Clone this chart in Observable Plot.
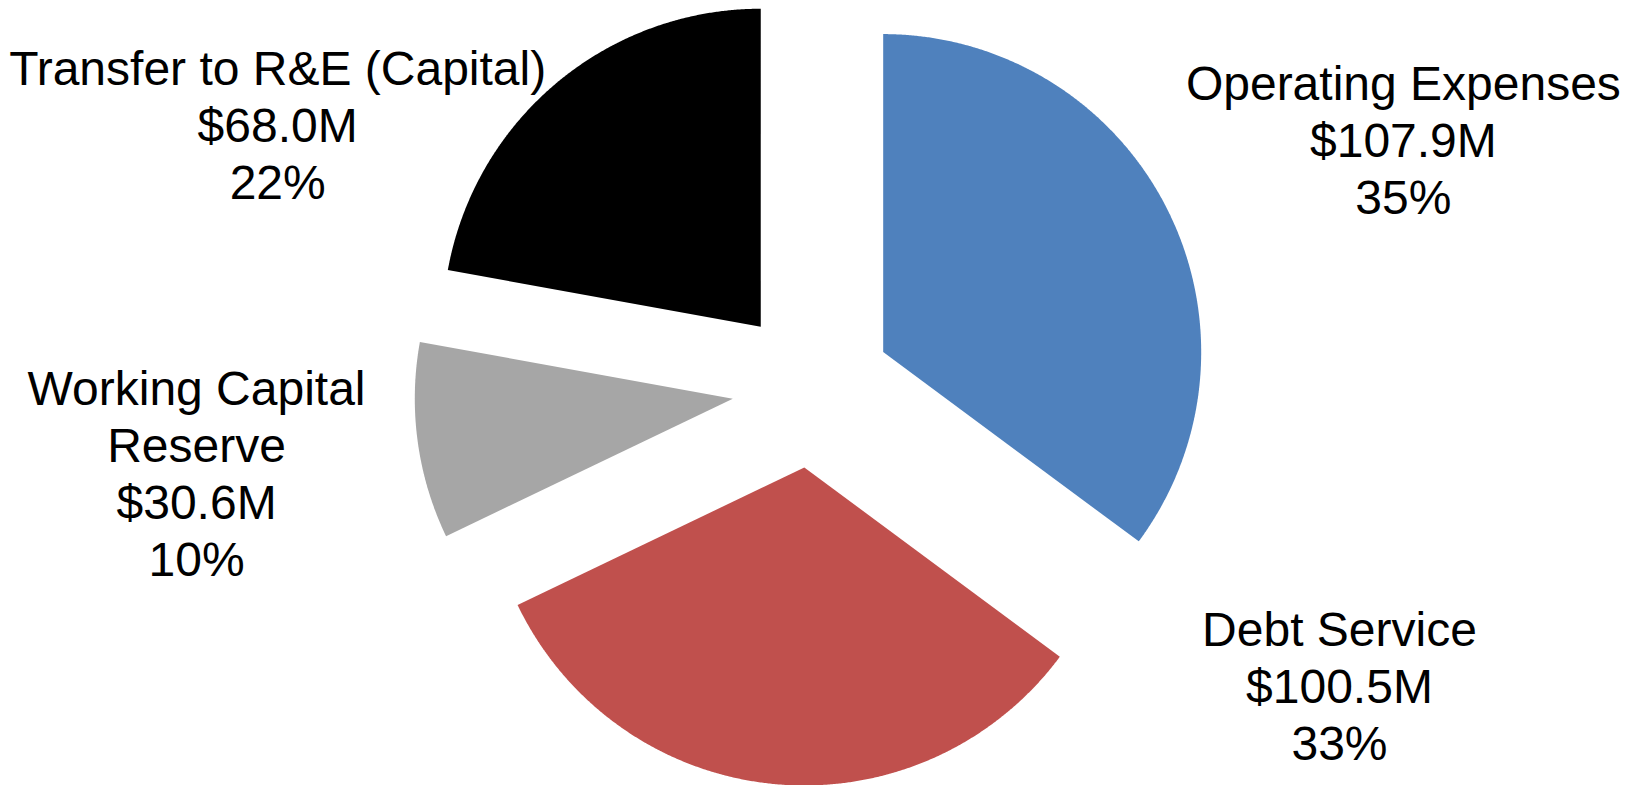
<!DOCTYPE html>
<html>
<head>
<meta charset="utf-8">
<script src="https://cdn.jsdelivr.net/npm/d3@7"></script>
<script src="https://cdn.jsdelivr.net/npm/@observablehq/plot@0.6"></script>
<style>
  html, body { margin: 0; padding: 0; background: #ffffff; }
  #chart svg { display: block; }
</style>
</head>
<body>
<div id="chart"></div>
<script>
// ---- data ----
const categories = ["Operating Expenses", "Debt Service", "Working Capital Reserve", "Transfer to R&E (Capital)"];
const labelNames = ["Operating Expenses", "Debt Service", "Working Capital\nReserve", "Transfer to R&E (Capital)"];
const values = [107.9, 100.5, 30.6, 68.0];   // $ millions
const colors = ["#4F81BD", "#C0504D", "#A6A6A6", "#000000"];

// ---- layout (not data) ----
const W = 1638, H = 785;
const CX = 811.4, CY = 387.5, R_PX = 318;   // pie centre and radius in pixels
const explode = 0.251;                      // slice offset, in radius units
// label block anchor (top-centre), in radius units relative to the pie centre
const labelAt = [[1.860, 1.033], [1.659, -0.684], [-1.935, 0.074], [-1.680, 1.080]];

const total = d3.sum(values);
const arcs = d3.pie().sort(null).value(d => d)(values);

// polygon outline of every exploded slice, generated from the pie layout
const points = [];
arcs.forEach((a, i) => {
  const mid = (a.startAngle + a.endAngle) / 2;
  const ox = explode * Math.sin(mid), oy = explode * Math.cos(mid);
  points.push({name: categories[i], x: ox, y: oy});
  const n = Math.max(8, Math.ceil((a.endAngle - a.startAngle) / (Math.PI / 720)));
  for (let k = 0; k <= n; k++) {
    const t = a.startAngle + (a.endAngle - a.startAngle) * k / n;
    points.push({name: categories[i], x: ox + Math.sin(t), y: oy + Math.cos(t)});
  }
  points.push({name: categories[i], x: ox, y: oy});
});

const labels = categories.map((c, i) => ({
  name: c,
  text: `${labelNames[i]}\n$${values[i].toFixed(1)}M\n${Math.round(values[i] / total * 100)}%`,
  x: labelAt[i][0],
  y: labelAt[i][1]
}));

const chart = Plot.plot({
  width: W,
  height: H,
  margin: 0,
  x: {domain: [-CX / R_PX, (W - CX) / R_PX], axis: null},
  y: {domain: [(CY - H) / R_PX, CY / R_PX], axis: null},
  color: {domain: categories, range: colors},
  marks: [
    Plot.line(points, {x: "x", y: "y", z: "name", fill: "name", stroke: "none", curve: "linear"}),
    Plot.text(labels, {
      x: "x", y: "y", text: "text",
      fontSize: 48,
      fontFamily: "Liberation Sans, Arial, sans-serif",
      lineAnchor: "top",
      lineHeight: 57 / 48,
      textAnchor: "middle",
      fill: "#000000"
    })
  ]
});
document.getElementById("chart").appendChild(chart);
</script>
</body>
</html>
